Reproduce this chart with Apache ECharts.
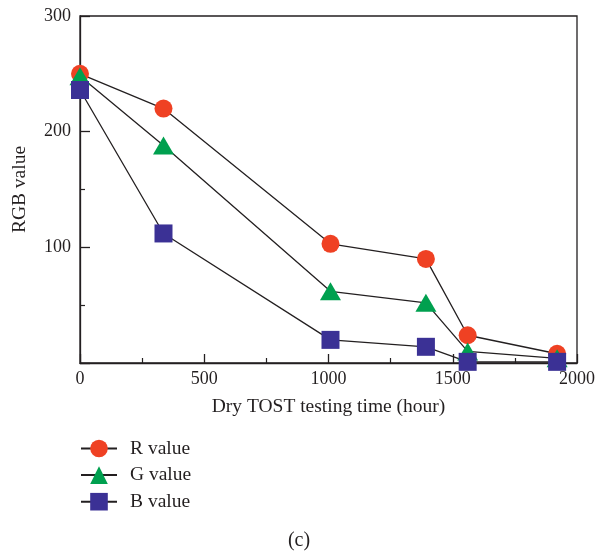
<!DOCTYPE html>
<html>
<head>
<meta charset="utf-8">
<script src="https://cdn.jsdelivr.net/npm/echarts@6/dist/echarts.min.js"></script>
<style>
  html, body { margin: 0; padding: 0; background: #fff; }
  #main { width: 598px; height: 554px; }
</style>
</head>
<body>
<div id="main"></div>
<script>
// testing hours
var hours = [0, 336, 1008, 1392, 1560, 1920];
var rValues = [250, 220, 103, 90, 24, 8];
var gValues = [248, 188, 62, 52, 10, 4];
var bValues = [236, 112, 20, 14, 1, 1];
var xTicks = [0, 500, 1000, 1500, 2000];
var yTicks = [100, 200, 300];

var font = '"Liberation Serif", "DejaVu Serif", serif';
var ink = '#231f20';

function pairs(vals){
	var out = [];
	for (var i = 0; i < hours.length; i++) out.push([hours[i], vals[i]]);
	return out;
}

function mkSeries(name, vals, symbol, size, color){
	return {
		name: name,
		type: 'line',
		data: pairs(vals),
		symbol: symbol,
		symbolSize: size,
		showAllSymbol: true,
		clip: false,
		lineStyle: { color: ink, width: 1.3 },
		itemStyle: { color: color, opacity: 1 },
		emphasis: { disabled: true },
		animation: false
	};
}

var chart = echarts.init(document.getElementById('main'));

chart.setOption({
	backgroundColor: '#fff',
	animation: false,
	title: {
		text: '(c)',
		left: 'center',
		top: 526,
		textStyle: { fontFamily: font, fontSize: 20, fontWeight: 'normal', color: ink }
	},
	grid: {
		left: 80, top: 16, right: 21, bottom: 191,
		show: true, borderColor: ink, borderWidth: 1.3, backgroundColor: 'transparent'
	},
	legend: {
		orient: 'vertical',
		left: 80, top: 438.5, padding: 0,
		itemWidth: 36, itemHeight: 22, itemGap: 6.6,
		textStyle: { fontFamily: font, fontSize: 19.5, color: ink, padding: [0, 0, 0, 8] },
		data: ['R value', 'G value', 'B value']
	},
	xAxis: {
		type: 'value',
		min: 0, max: 2000, interval: 500,
		name: 'Dry TOST testing time (hour)',
		nameLocation: 'middle', nameGap: 34,
		nameTextStyle: { fontFamily: font, fontSize: 19.5, color: ink },
		axisLine: { lineStyle: { color: ink, width: 1.3 } },
		axisTick: { inside: true, length: 9, lineStyle: { color: ink, width: 1.3 } },
		minorTick: { show: true, splitNumber: 2, length: 5, lineStyle: { color: ink, width: 1.2 } },
		splitLine: { show: false },
		axisLabel: {
			fontFamily: font, fontSize: 18, color: ink, margin: 7,
			formatter: function(v){ return xTicks.indexOf(v) > -1 ? String(v) : ''; }
		}
	},
	yAxis: {
		type: 'value',
		min: 0, max: 300, interval: 100,
		name: 'RGB value',
		nameLocation: 'middle', nameGap: 50,
		nameTextStyle: { fontFamily: font, fontSize: 19.5, color: ink },
		axisLine: { lineStyle: { color: ink, width: 1.3 } },
		axisTick: { inside: true, length: 10, lineStyle: { color: ink, width: 1.3 } },
		minorTick: { show: true, splitNumber: 2, length: 5, lineStyle: { color: ink, width: 1.2 } },
		splitLine: { show: false },
		axisLabel: {
			fontFamily: font, fontSize: 18, color: ink, margin: 9,
			formatter: function(v){ return yTicks.indexOf(v) > -1 ? String(v) : ''; }
		}
	},
	series: [
		mkSeries('R value', rValues, 'circle', 18, '#ef4123'),
		mkSeries('G value', gValues, 'triangle', [21, 18], '#00a04f'),
		mkSeries('B value', bValues, 'rect', 18, '#3b3195')
	]
});
</script>
</body>
</html>
